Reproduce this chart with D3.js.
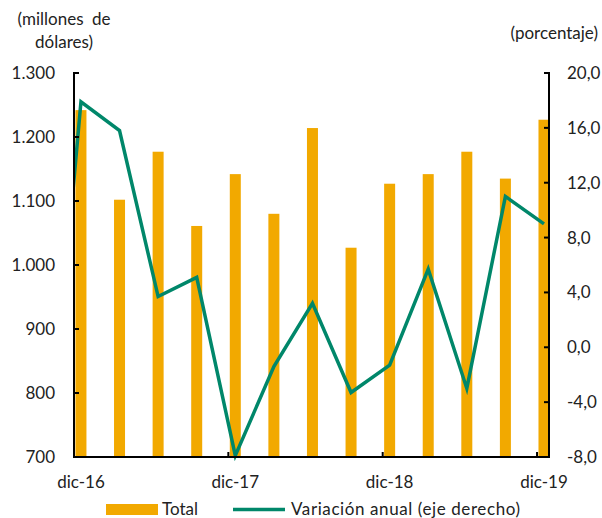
<!DOCTYPE html>
<html><head><meta charset="utf-8">
<script src="https://cdn.jsdelivr.net/npm/d3@7"></script>
<style>body{margin:0;background:#fff}svg{display:block}text{font-family:Lato,"Open Sans",sans-serif;fill:#222}</style>
</head><body><svg id="c" width="602" height="518"></svg>
<script>
const categories = ["sep-16","dic-16","mar-17","jun-17","sep-17","dic-17","mar-18","jun-18","sep-18","dic-18","mar-19","jun-19","sep-19","dic-19"];
const totalValues = [null,1242,1102,1177,1061,1142,1080,1214,1027,1127,1142,1177,1135,1227];
const variationValues = [-13.5,17.9,15.8,3.7,5.1,-7.9,-1.4,3.2,-3.3,-1.3,5.7,-3.0,11.0,9.0];
const leftTicks = [700,800,900,1000,1100,1200,1300];
const leftTickLabels = ["700","800","900","1.000","1.100","1.200","1.300"];
const rightTicks = [-8,-4,0,4,8,12,16,20];
const rightTickLabels = ["-8,0","-4,0","0,0","4,0","8,0","12,0","16,0","20,0"];
const xTickLabels = ["dic-16","dic-17","dic-18","dic-19"];

const svg = d3.select("#c");
const L=74,R=549,T=73,B=457;
const x = d3.scaleLinear().domain([0.82,13.13]).range([L,R]);
const yL = d3.scaleLinear().domain([700,1300]).range([B,T]);
const yR = d3.scaleLinear().domain([-8,20]).range([B,T]);
const orange="#F2A900", green="#00876A";

svg.append("defs").append("clipPath").attr("id","pc").append("rect").attr("x",L).attr("y",0).attr("width",R-L).attr("height",518);

// bars
const bw=11;
svg.append("g").selectAll("rect").data(totalValues.map((v,i)=>({v,i})).filter(d=>d.v!=null))
 .join("rect").attr("x",d=>x(d.i)-bw/2).attr("width",bw)
 .attr("y",d=>yL(d.v)).attr("height",d=>B-yL(d.v)).attr("fill",orange);

// line
const line=d3.line().x((d,i)=>x(i)).y(d=>yR(d));
svg.append("path").attr("clip-path","url(#pc)").attr("d",line(variationValues))
 .attr("fill","none").attr("stroke",green).attr("stroke-width",3.5).attr("stroke-linejoin","miter");

// axes
const ax=svg.append("g").attr("stroke","#000").attr("stroke-width",2);
ax.append("line").attr("x1",L).attr("x2",L).attr("y1",T-1).attr("y2",B+1);
ax.append("line").attr("x1",R).attr("x2",R).attr("y1",T-1).attr("y2",B+1);
ax.append("line").attr("x1",L-1).attr("x2",R+1).attr("y1",B).attr("y2",B);
leftTicks.forEach(t=>ax.append("line").attr("x1",L).attr("x2",L+5).attr("y1",yL(t)).attr("y2",yL(t)));
rightTicks.forEach(t=>ax.append("line").attr("x1",R-5).attr("x2",R).attr("y1",yR(t)).attr("y2",yR(t)));
const xt=[1,5,9,13];
xt.forEach(i=>{const xx=x(i-0.18);ax.append("line").attr("x1",xx).attr("x2",xx).attr("y1",B).attr("y2",B-5);});

const fs=17;
leftTicks.forEach((t,k)=>svg.append("text").attr("x",55).attr("y",yL(t)).attr("dy","0.35em").attr("text-anchor","end").attr("font-size",fs).text(leftTickLabels[k]));
rightTicks.forEach((t,k)=>svg.append("text").attr("x",567).attr("y",yR(t)).attr("dy","0.35em").attr("font-size",fs).text(rightTickLabels[k]));
xt.forEach((i,k)=>svg.append("text").attr("x",x(i)).attr("y",488).attr("text-anchor","middle").attr("font-size",fs).text(xTickLabels[k]));

svg.append("text").attr("x",64).attr("y",25).attr("text-anchor","middle").attr("font-size",fs).attr("word-spacing","4").text("(millones de");
svg.append("text").attr("x",64).attr("y",48).attr("text-anchor","middle").attr("font-size",fs).text("dólares)");
svg.append("text").attr("x",598).attr("y",39).attr("text-anchor","end").attr("font-size",fs).text("(porcentaje)");

// legend
svg.append("rect").attr("x",106).attr("y",504).attr("width",52).attr("height",11).attr("fill",orange);
svg.append("text").attr("x",162).attr("y",515).attr("font-size",fs).text("Total");
svg.append("line").attr("x1",233).attr("x2",285).attr("y1",509.5).attr("y2",509.5).attr("stroke",green).attr("stroke-width",3.5);
svg.append("text").attr("x",291).attr("y",515).attr("font-size",fs).attr("textLength",229).attr("lengthAdjust","spacing").text("Variación anual (eje derecho)");
</script></body></html>
